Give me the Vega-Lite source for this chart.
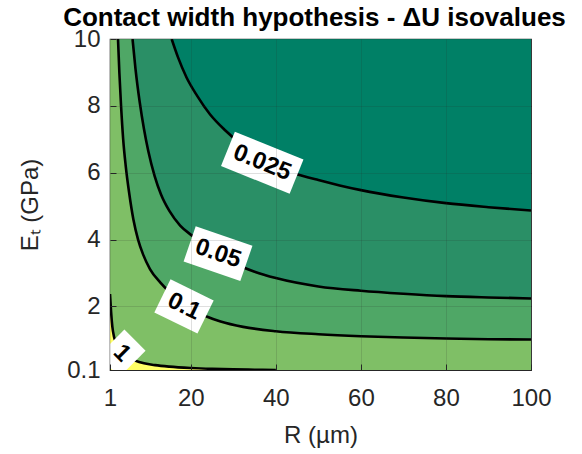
{
  "$schema": "https://vega.github.io/schema/vega-lite/v6.json",
  "width": 421,
  "height": 331,
  "autosize": {"type": "none"},
  "padding": {"left": 110, "top": 39, "right": 51, "bottom": 84},
  "background": "white",
  "title": {
    "text": "Contact width hypothesis - ΔU isovalues",
    "fontSize": 26,
    "fontWeight": "bold",
    "color": "#000000",
    "anchor": "middle",
    "dx": -6,
    "offset": -4
  },
  "config": {
    "font": "Liberation Sans",
    "view": {"stroke": "#262626", "strokeWidth": 1.2},
    "axis": {
      "labelFont": "Liberation Sans",
      "titleFont": "Liberation Sans",
      "labelFontSize": 24,
      "titleFontSize": 24,
      "labelColor": "#262626",
      "titleColor": "#262626",
      "titleFontWeight": "normal",
      "domainColor": "#262626",
      "tickColor": "#262626",
      "gridColor": "#262626",
      "gridOpacity": 0.15,
      "gridWidth": 1
    }
  },
  "datasets": {
    "frame": [{"R0": 1, "R1": 100, "E0": 0.1, "E1": 10}],
    "curves": [
      {"level": "0.025", "R": 15.5, "E": 10},
      {"level": "0.025", "R": 17, "E": 9.45},
      {"level": "0.025", "R": 19, "E": 8.85},
      {"level": "0.025", "R": 21.5, "E": 8.3},
      {"level": "0.025", "R": 24.5, "E": 7.75},
      {"level": "0.025", "R": 28, "E": 7.28},
      {"level": "0.025", "R": 32, "E": 6.84},
      {"level": "0.025", "R": 36.8, "E": 6.42},
      {"level": "0.025", "R": 40, "E": 6.2},
      {"level": "0.025", "R": 44.5, "E": 5.98},
      {"level": "0.025", "R": 50, "E": 5.78},
      {"level": "0.025", "R": 55, "E": 5.62},
      {"level": "0.025", "R": 60, "E": 5.48},
      {"level": "0.025", "R": 70, "E": 5.26},
      {"level": "0.025", "R": 80, "E": 5.09},
      {"level": "0.025", "R": 90, "E": 4.97},
      {"level": "0.025", "R": 100, "E": 4.87},
      {"level": "0.05", "R": 6.3, "E": 10},
      {"level": "0.05", "R": 7.0, "E": 9.1},
      {"level": "0.05", "R": 8.0, "E": 8.1},
      {"level": "0.05", "R": 9.0, "E": 7.3},
      {"level": "0.05", "R": 10, "E": 6.65},
      {"level": "0.05", "R": 11.5, "E": 5.9},
      {"level": "0.05", "R": 13, "E": 5.35},
      {"level": "0.05", "R": 15, "E": 4.85},
      {"level": "0.05", "R": 17.5, "E": 4.42},
      {"level": "0.05", "R": 20.5, "E": 4.1},
      {"level": "0.05", "R": 23.5, "E": 3.8},
      {"level": "0.05", "R": 26.4, "E": 3.55},
      {"level": "0.05", "R": 30, "E": 3.3},
      {"level": "0.05", "R": 35, "E": 3.04},
      {"level": "0.05", "R": 40, "E": 2.85},
      {"level": "0.05", "R": 50, "E": 2.6},
      {"level": "0.05", "R": 60, "E": 2.47},
      {"level": "0.05", "R": 70, "E": 2.38},
      {"level": "0.05", "R": 80, "E": 2.31},
      {"level": "0.05", "R": 90, "E": 2.27},
      {"level": "0.05", "R": 100, "E": 2.24},
      {"level": "0.1", "R": 2.88, "E": 10},
      {"level": "0.1", "R": 3.2, "E": 9.0},
      {"level": "0.1", "R": 3.6, "E": 8.0},
      {"level": "0.1", "R": 4.1, "E": 7.0},
      {"level": "0.1", "R": 4.7, "E": 6.2},
      {"level": "0.1", "R": 5.5, "E": 5.4},
      {"level": "0.1", "R": 6.5, "E": 4.6},
      {"level": "0.1", "R": 7.6, "E": 4.0},
      {"level": "0.1", "R": 8.8, "E": 3.55},
      {"level": "0.1", "R": 10.4, "E": 3.12},
      {"level": "0.1", "R": 12.8, "E": 2.72},
      {"level": "0.1", "R": 15.1, "E": 2.42},
      {"level": "0.1", "R": 18.4, "E": 2.08},
      {"level": "0.1", "R": 21, "E": 1.86},
      {"level": "0.1", "R": 23.7, "E": 1.7},
      {"level": "0.1", "R": 27, "E": 1.55},
      {"level": "0.1", "R": 32.3, "E": 1.39},
      {"level": "0.1", "R": 40, "E": 1.26},
      {"level": "0.1", "R": 50, "E": 1.17},
      {"level": "0.1", "R": 60, "E": 1.11},
      {"level": "0.1", "R": 70, "E": 1.07},
      {"level": "0.1", "R": 80, "E": 1.04},
      {"level": "0.1", "R": 90, "E": 1.02},
      {"level": "0.1", "R": 100, "E": 1.01},
      {"level": "1", "R": 1, "E": 2.37},
      {"level": "1", "R": 1.25, "E": 1.85},
      {"level": "1", "R": 1.55, "E": 1.4},
      {"level": "1", "R": 1.9, "E": 1.12},
      {"level": "1", "R": 2.3, "E": 0.95},
      {"level": "1", "R": 3, "E": 0.76},
      {"level": "1", "R": 4, "E": 0.6},
      {"level": "1", "R": 5.2, "E": 0.48},
      {"level": "1", "R": 6.9, "E": 0.38},
      {"level": "1", "R": 9, "E": 0.3},
      {"level": "1", "R": 11.6, "E": 0.245},
      {"level": "1", "R": 15, "E": 0.2},
      {"level": "1", "R": 20, "E": 0.16},
      {"level": "1", "R": 25, "E": 0.135},
      {"level": "1", "R": 30, "E": 0.12},
      {"level": "1", "R": 35, "E": 0.108},
      {"level": "1", "R": 40, "E": 0.1}
    ],
    "labels": [
      {"label": "0.025", "R": 36.8, "E": 6.3},
      {"label": "0.05", "R": 26.4, "E": 3.58},
      {"label": "0.1", "R": 18.4, "E": 2.0},
      {"label": "1", "R": 3.8, "E": 0.6}
    ]
  },
  "resolve": {"axis": {"x": "independent", "y": "independent"}},
  "layer": [
    {
      "data": {"name": "frame"},
      "mark": {"type": "rect", "fill": "#7fbf66"},
      "encoding": {
        "x": {
          "field": "R0", "type": "quantitative",
          "scale": {"domain": [1, 100], "nice": false, "zero": false},
          "axis": {
            "values": [1, 20, 40, 60, 80, 100], "labelExpr": "'' + datum.value",
            "title": "R (µm)", "grid": true, "zindex": 1,
            "domain": false, "tickSize": -6, "labelPadding": 22,
            "titlePadding": 13, "labelFlush": false
          }
        },
        "x2": {"field": "R1"},
        "y": {
          "field": "E0", "type": "quantitative",
          "scale": {"domain": [0.1, 10], "nice": false, "zero": false},
          "axis": {
            "values": [0.1, 2, 4, 6, 8, 10], "labelExpr": "'' + datum.value",
            "title": "Eₜ (GPa)", "grid": true, "zindex": 1,
            "domain": false, "tickSize": -6, "labelPadding": 16,
            "titlePadding": 24, "labelFlush": false
          }
        },
        "y2": {"field": "E1"}
      }
    },
    {
      "data": {"name": "curves"},
      "transform": [{"filter": "datum.level === '1'"}],
      "mark": {"type": "area", "color": "#ffff66", "interpolate": "monotone", "clip": true},
      "encoding": {
        "x": {"field": "R", "type": "quantitative", "axis": null},
        "y": {"field": "E", "type": "quantitative", "axis": null},
        "y2": {"datum": 0.1}
      }
    },
    {
      "data": {"name": "curves"},
      "transform": [{"filter": "datum.level === '0.1'"}],
      "mark": {"type": "area", "color": "#4fa766", "interpolate": "monotone", "clip": true},
      "encoding": {
        "x": {"field": "R", "type": "quantitative", "axis": null},
        "y": {"field": "E", "type": "quantitative", "axis": null},
        "y2": {"datum": 10}
      }
    },
    {
      "data": {"name": "curves"},
      "transform": [{"filter": "datum.level === '0.05'"}],
      "mark": {"type": "area", "color": "#2a8f66", "interpolate": "monotone", "clip": true},
      "encoding": {
        "x": {"field": "R", "type": "quantitative", "axis": null},
        "y": {"field": "E", "type": "quantitative", "axis": null},
        "y2": {"datum": 10}
      }
    },
    {
      "data": {"name": "curves"},
      "transform": [{"filter": "datum.level === '0.025'"}],
      "mark": {"type": "area", "color": "#008066", "interpolate": "monotone", "clip": true},
      "encoding": {
        "x": {"field": "R", "type": "quantitative", "axis": null},
        "y": {"field": "E", "type": "quantitative", "axis": null},
        "y2": {"datum": 10}
      }
    },
    {
      "data": {"name": "curves"},
      "mark": {"type": "line", "color": "#000000", "strokeWidth": 2.6, "interpolate": "monotone", "clip": true},
      "encoding": {
        "x": {
          "field": "R", "type": "quantitative",
          "axis": {"orient": "top", "values": [20, 40, 60, 80], "labels": false, "domain": false, "grid": false, "tickSize": -6, "title": null}
        },
        "y": {
          "field": "E", "type": "quantitative",
          "axis": {"orient": "right", "values": [2, 4, 6, 8], "labels": false, "domain": false, "grid": false, "tickSize": -6, "title": null}
        },
        "detail": {"field": "level"}
      }
    },
    {
      "data": {"name": "labels"},
      "transform": [{"filter": "datum.label === '0.025'"}],
      "encoding": {
        "x": {"field": "R", "type": "quantitative", "axis": null},
        "y": {"field": "E", "type": "quantitative", "axis": null}
      },
      "layer": [
        {"mark": {"type": "point", "shape": "M-1,-0.5L1,-0.5L1,0.5L-1,0.5Z", "size": 5476, "angle": 22, "filled": true, "fill": "#ffffff", "strokeWidth": 0, "opacity": 1, "clip": true}},
        {"mark": {"type": "text", "angle": 22, "fontSize": 24, "fontWeight": "bold", "color": "#000000", "align": "center", "baseline": "middle", "clip": true}, "encoding": {"text": {"field": "label"}}}
      ]
    },
    {
      "data": {"name": "labels"},
      "transform": [{"filter": "datum.label === '0.05'"}],
      "encoding": {
        "x": {"field": "R", "type": "quantitative", "axis": null},
        "y": {"field": "E", "type": "quantitative", "axis": null}
      },
      "layer": [
        {"mark": {"type": "point", "shape": "M-1,-0.62L1,-0.62L1,0.62L-1,0.62Z", "size": 3600, "angle": 19, "filled": true, "fill": "#ffffff", "strokeWidth": 0, "opacity": 1, "clip": true}},
        {"mark": {"type": "text", "angle": 19, "fontSize": 24, "fontWeight": "bold", "color": "#000000", "align": "center", "baseline": "middle", "clip": true}, "encoding": {"text": {"field": "label"}}}
      ]
    },
    {
      "data": {"name": "labels"},
      "transform": [{"filter": "datum.label === '0.1'"}],
      "encoding": {
        "x": {"field": "R", "type": "quantitative", "axis": null},
        "y": {"field": "E", "type": "quantitative", "axis": null}
      },
      "layer": [
        {"mark": {"type": "point", "shape": "M-1,-0.77L1,-0.77L1,0.77L-1,0.77Z", "size": 2304, "angle": 26, "filled": true, "fill": "#ffffff", "strokeWidth": 0, "opacity": 1, "clip": true}},
        {"mark": {"type": "text", "angle": 26, "fontSize": 24, "fontWeight": "bold", "color": "#000000", "align": "center", "baseline": "middle", "clip": true}, "encoding": {"text": {"field": "label"}}}
      ]
    },
    {
      "data": {"name": "labels"},
      "transform": [{"filter": "datum.label === '1'"}],
      "encoding": {
        "x": {"field": "R", "type": "quantitative", "axis": null},
        "y": {"field": "E", "type": "quantitative", "axis": null}
      },
      "layer": [
        {"mark": {"type": "point", "shape": "M-0.81,-1L0.81,-1L0.81,1L-0.81,1Z", "size": 1369, "angle": 45, "filled": true, "fill": "#ffffff", "strokeWidth": 0, "opacity": 1, "clip": true}},
        {"mark": {"type": "text", "angle": 45, "fontSize": 24, "fontWeight": "bold", "color": "#000000", "align": "center", "baseline": "middle", "clip": true}, "encoding": {"text": {"field": "label"}}}
      ]
    }
  ]
}
